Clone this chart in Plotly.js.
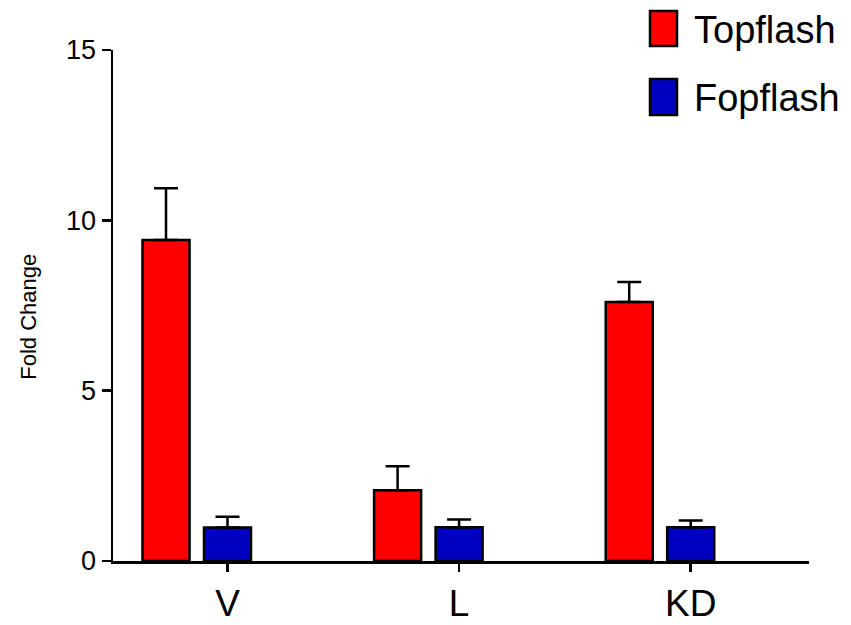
<!DOCTYPE html>
<html>
<head>
<meta charset="utf-8">
<script src="https://cdn.plot.ly/plotly-3.0.1.min.js"></script>
<style>html,body{margin:0;padding:0;background:#fff;}#chart{width:851px;height:625px;}</style>
</head>
<body>
<div id="chart"></div>
<script>
// ---- data ----
var categories = ["V", "L", "KD"];
var seriesNames = ["Topflash", "Fopflash"];
var topflash = [9.42, 2.08, 7.60];
var topflashErr = [1.52, 0.70, 0.59];
var fopflash = [0.98, 0.99, 0.99];
var fopflashErr = [0.32, 0.23, 0.20];
var yTicks = [0, 5, 10, 15];
var yTitle = "Fold Change";

// ---- layout helpers ----
var W = 851, H = 625;
var L = 113, R = 809, T = 50, B = 561.5;
function px(x){ return (x - L) / (R - L); }
function py(y){ return (B - y) / (B - T); }

var idx = categories.map(function(_, i){ return i; });
var bw = 0.203;          // bar width in category units
var sep = 0.2655;        // distance between bar centres inside a group
var FONT = "Arial, 'Liberation Sans', sans-serif";
var colors = ["#FF0000", "#0000C0"];

var traces = [
  {
    type: "bar", name: seriesNames[0], x: idx, y: topflash,
    width: bw, offset: -sep - bw / 2,
    marker: {color: colors[0], line: {color: "#000", width: 2.5}},
    error_y: {type: "data", symmetric: false, array: topflashErr,
              arrayminus: topflashErr.map(function(){ return 0; }),
              color: "#000", thickness: 2.5, width: 12},
    showlegend: false, hoverinfo: "skip"
  },
  {
    type: "bar", name: seriesNames[1], x: idx, y: fopflash,
    width: bw, offset: -bw / 2,
    marker: {color: colors[1], line: {color: "#000", width: 2.5}},
    error_y: {type: "data", symmetric: false, array: fopflashErr,
              arrayminus: fopflashErr.map(function(){ return 0; }),
              color: "#000", thickness: 2.5, width: 12},
    showlegend: false, hoverinfo: "skip"
  }
];

// legend drawn manually (large boxes like the original)
var legendBoxes = [[11, 46], [79, 115]];
var shapes = [], annotations = [];
seriesNames.forEach(function(name, i){
  var b = legendBoxes[i];
  shapes.push({type: "rect", xref: "paper", yref: "paper",
    x0: px(650), x1: px(677), y0: py(b[1]), y1: py(b[0]),
    fillcolor: colors[i], line: {color: "#000", width: 2.5}});
  annotations.push({xref: "paper", yref: "paper", x: px(692), y: py((b[0] + b[1]) / 2 + 1),
    xanchor: "left", yanchor: "middle", showarrow: false, text: name,
    font: {family: FONT, size: 38, color: "#000"}});
});
// y-axis title
annotations.push({xref: "paper", yref: "paper", x: px(29), y: py(317),
  xanchor: "center", yanchor: "middle", showarrow: false, textangle: -90,
  text: yTitle, font: {family: FONT, size: 22, color: "#000"}});

var layout = {
  width: W, height: H,
  margin: {l: L, r: W - R, t: T, b: H - B, pad: 0},
  paper_bgcolor: "#fff", plot_bgcolor: "#fff",
  font: {family: FONT, color: "#000"},
  barmode: "overlay",
  xaxis: {
    range: [(113 - 227.5) / 231.6, (809 - 227.5) / 231.6],
    tickvals: idx, ticktext: categories,
    showgrid: false, zeroline: false,
    showline: true, linecolor: "#000", linewidth: 2.5,
    ticks: "outside", ticklen: 8, tickwidth: 2.5, tickcolor: "#000",
    tickfont: {family: FONT, size: 37, color: "#000"},
    fixedrange: true
  },
  yaxis: {
    range: [0, 15], tickvals: yTicks, ticktext: yTicks.map(String),
    showgrid: false, zeroline: false,
    showline: true, linecolor: "#000", linewidth: 2.5,
    ticks: "outside", ticklen: 9, tickwidth: 2.5, tickcolor: "#000",
    tickfont: {family: FONT, size: 27, color: "#000"},
    fixedrange: true
  },
  shapes: shapes,
  annotations: annotations
};

Plotly.newPlot("chart", traces, layout, {displayModeBar: false, staticPlot: true});
</script>
</body>
</html>
